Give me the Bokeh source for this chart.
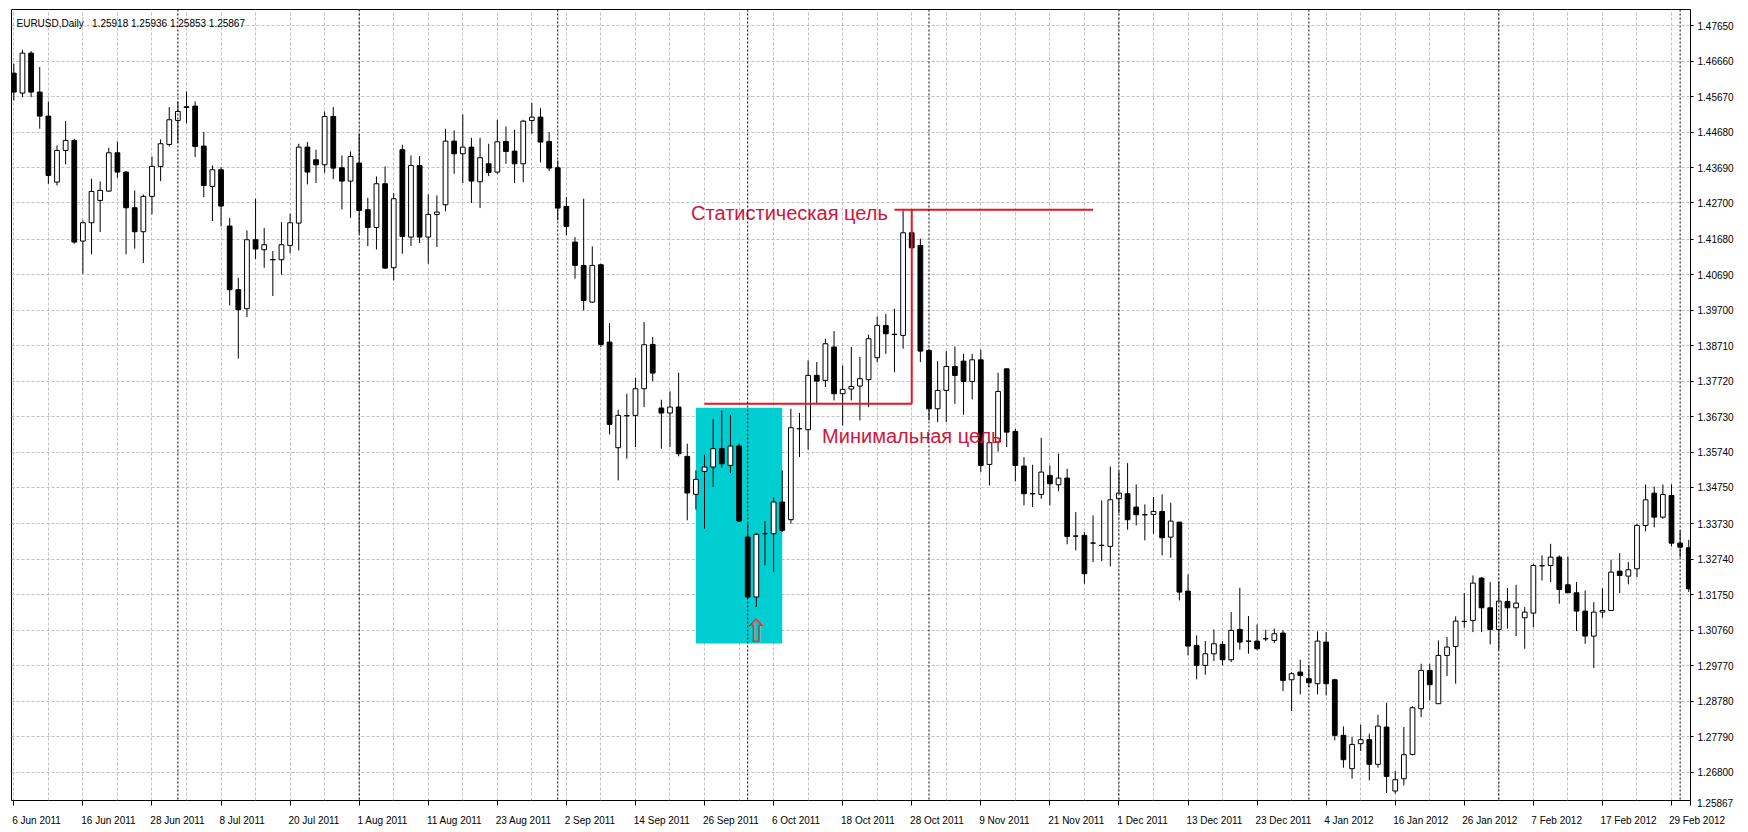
from bokeh.plotting import figure
from bokeh.models import (FixedTicker, Range1d, Span, Label, LinearAxis,
                          PrintfTickFormatter)
from bokeh.core.properties import value
from bokeh.embed import file_html
from bokeh.resources import INLINE

# ---------------- data ----------------
date_ticks = list(range(0, 193, 8))
date_labels = ["6 Jun 2011", "16 Jun 2011", "28 Jun 2011", "8 Jul 2011", "20 Jul 2011",
               "1 Aug 2011", "11 Aug 2011", "23 Aug 2011", "2 Sep 2011", "14 Sep 2011",
               "26 Sep 2011", "6 Oct 2011", "18 Oct 2011", "28 Oct 2011", "9 Nov 2011",
               "21 Nov 2011", "1 Dec 2011", "13 Dec 2011", "23 Dec 2011", "4 Jan 2012",
               "16 Jan 2012", "26 Jan 2012", "7 Feb 2012", "17 Feb 2012", "29 Feb 2012"]
month_starts = [19, 40, 63, 85, 106, 128, 150, 172, 193]
price_ticks = [1.47650, 1.46660, 1.45670, 1.44680, 1.43690, 1.42700, 1.41680, 1.40690,
               1.39700, 1.38710, 1.37720, 1.36730, 1.35740, 1.34750, 1.33730, 1.32740,
               1.31750, 1.30760, 1.29770, 1.28780, 1.27790, 1.26800]

ohlc = [
    (1.46327, 1.46588, 1.45564, 1.45797), (1.45769, 1.46979, 1.45657, 1.46886),
    (1.46886, 1.46942, 1.45657, 1.45797), (1.45797, 1.46495, 1.44773, 1.45126),
    (1.45126, 1.45536, 1.43236, 1.43469), (1.43283, 1.44307, 1.43190, 1.44167),
    (1.44167, 1.44987, 1.43776, 1.44447), (1.44447, 1.44493, 1.41561, 1.41607),
    (1.41635, 1.42212, 1.40723, 1.42147), (1.42147, 1.43376, 1.41263, 1.43022),
    (1.42771, 1.43302, 1.41886, 1.43050), (1.43032, 1.44242, 1.43004, 1.44102),
    (1.44102, 1.44419, 1.43404, 1.43562), (1.43562, 1.43590, 1.41263, 1.42566),
    (1.42566, 1.43050, 1.41421, 1.41896), (1.41896, 1.42938, 1.41021, 1.42883),
    (1.42883, 1.44000, 1.42380, 1.43721), (1.43721, 1.44475, 1.43311, 1.44354),
    (1.44335, 1.45378, 1.44279, 1.45024), (1.45005, 1.45536, 1.44372, 1.45257),
    (1.45387, 1.45815, 1.44931, 1.45368), (1.45406, 1.45536, 1.43981, 1.44279),
    (1.44288, 1.44679, 1.42864, 1.43190), (1.43162, 1.43748, 1.42194, 1.43627),
    (1.43627, 1.43702, 1.42045, 1.42613), (1.42054, 1.42277, 1.39838, 1.40276),
    (1.40276, 1.40611, 1.38349, 1.39717), (1.39745, 1.41933, 1.39512, 1.41672),
    (1.41672, 1.42817, 1.41132, 1.41412), (1.41393, 1.41998, 1.40890, 1.41533),
    (1.41120, 1.41356, 1.40099, 1.41110), (1.41114, 1.42166, 1.40695, 1.41533),
    (1.41514, 1.42398, 1.41300, 1.42147), (1.42137, 1.44353, 1.41374, 1.44260),
    (1.44260, 1.44400, 1.43217, 1.43562), (1.43906, 1.44186, 1.43255, 1.43767),
    (1.43767, 1.45256, 1.43543, 1.45117), (1.45117, 1.45377, 1.43366, 1.43673),
    (1.43683, 1.44027, 1.42519, 1.43310), (1.43310, 1.44139, 1.42286, 1.43999),
    (1.43813, 1.44632, 1.41839, 1.42491), (1.42510, 1.42845, 1.41495, 1.42016),
    (1.42016, 1.43441, 1.41402, 1.43236), (1.43236, 1.43720, 1.40853, 1.40880),
    (1.40890, 1.42975, 1.40536, 1.42817), (1.44186, 1.44325, 1.41281, 1.41765),
    (1.41746, 1.44027, 1.41495, 1.43748), (1.43748, 1.44009, 1.41579, 1.41746),
    (1.41746, 1.42938, 1.41001, 1.42379), (1.42379, 1.42910, 1.41467, 1.42445),
    (1.42649, 1.44772, 1.42463, 1.44428), (1.44428, 1.44725, 1.43515, 1.44074),
    (1.44074, 1.45172, 1.43255, 1.44260), (1.44260, 1.44521, 1.42696, 1.43310),
    (1.43292, 1.44521, 1.42556, 1.43962), (1.43794, 1.44353, 1.43450, 1.43552),
    (1.43562, 1.45023, 1.43515, 1.44409), (1.44418, 1.44837, 1.43794, 1.44139),
    (1.44148, 1.44744, 1.43255, 1.43794), (1.43794, 1.45023, 1.43282, 1.44986),
    (1.45005, 1.45498, 1.44632, 1.45098), (1.45098, 1.45349, 1.43832, 1.44400),
    (1.44418, 1.44679, 1.43590, 1.43673), (1.43683, 1.43888, 1.42212, 1.42556),
    (1.42603, 1.42863, 1.41793, 1.42044), (1.41607, 1.41746, 1.40583, 1.40955),
    (1.40954, 1.42816, 1.39697, 1.39976), (1.39930, 1.41485, 1.39902, 1.40954),
    (1.40973, 1.41000, 1.38673, 1.38747), (1.38813, 1.39343, 1.36234, 1.36513),
    (1.35861, 1.36923, 1.34949, 1.36764), (1.36760, 1.37370, 1.35554, 1.36750),
    (1.36764, 1.37816, 1.35880, 1.37509), (1.37509, 1.39371, 1.36997, 1.38738),
    (1.38747, 1.38952, 1.37723, 1.37947), (1.36969, 1.37202, 1.35833, 1.36830),
    (1.36830, 1.37435, 1.35880, 1.36997), (1.36997, 1.37956, 1.35619, 1.35694),
    (1.35619, 1.35973, 1.33832, 1.34595), (1.34558, 1.35228, 1.34130, 1.34977),
    (1.35200, 1.35666, 1.33599, 1.35321), (1.35321, 1.36653, 1.34763, 1.35833),
    (1.35833, 1.36904, 1.35303, 1.35414), (1.35368, 1.36783, 1.35154, 1.35908),
    (1.35908, 1.35973, 1.33785, 1.33813), (1.33366, 1.33739, 1.31644, 1.31690),
    (1.31690, 1.33478, 1.31411, 1.33441), (1.33465, 1.33813, 1.32575, 1.33455),
    (1.33459, 1.34483, 1.32389, 1.34344), (1.34344, 1.35228, 1.33506, 1.33552),
    (1.33850, 1.36951, 1.33739, 1.36420), (1.36395, 1.36830, 1.35601, 1.36390),
    (1.36364, 1.38301, 1.35806, 1.37882), (1.37882, 1.38254, 1.37072, 1.37723),
    (1.37742, 1.38906, 1.37556, 1.38766), (1.38673, 1.39120, 1.37183, 1.37370),
    (1.37370, 1.38161, 1.36485, 1.37491), (1.37500, 1.38673, 1.37183, 1.37574),
    (1.37584, 1.38394, 1.36625, 1.37789), (1.37761, 1.39017, 1.36997, 1.38906),
    (1.38375, 1.39530, 1.38251, 1.39278), (1.39278, 1.39604, 1.38485, 1.39045),
    (1.39032, 1.39744, 1.37971, 1.39022), (1.38999, 1.42490, 1.38626, 1.41866),
    (1.41866, 1.41932, 1.41373, 1.41447), (1.41513, 1.41699, 1.38254, 1.38561),
    (1.38578, 1.38625, 1.36623, 1.36949), (1.36949, 1.38280, 1.36576, 1.37461),
    (1.37461, 1.38559, 1.36576, 1.38131), (1.38131, 1.38690, 1.37088, 1.37880),
    (1.38280, 1.38485, 1.36781, 1.37712), (1.37712, 1.38485, 1.37210, 1.38317),
    (1.38317, 1.38597, 1.35180, 1.35366), (1.35394, 1.36046, 1.34808, 1.35999),
    (1.36018, 1.37954, 1.35757, 1.37433), (1.38066, 1.38066, 1.35878, 1.36297),
    (1.36316, 1.36390, 1.34919, 1.35366), (1.35348, 1.35599, 1.34249, 1.34575),
    (1.34580, 1.35385, 1.34202, 1.34570), (1.34556, 1.36139, 1.34435, 1.35180),
    (1.35087, 1.35366, 1.34249, 1.34854), (1.34826, 1.35692, 1.34649, 1.35012),
    (1.35012, 1.35273, 1.33160, 1.33383), (1.33395, 1.34063, 1.32992, 1.33390),
    (1.33411, 1.33504, 1.32061, 1.32340), (1.33200, 1.33970, 1.32666, 1.33195),
    (1.33135, 1.34389, 1.32694, 1.33130), (1.33104, 1.35338, 1.32545, 1.34407),
    (1.34435, 1.35208, 1.34035, 1.34593), (1.34575, 1.35431, 1.33569, 1.33849),
    (1.34202, 1.34835, 1.33690, 1.33988), (1.33990, 1.34277, 1.33271, 1.33985),
    (1.33998, 1.34482, 1.33458, 1.34081), (1.34081, 1.34556, 1.32852, 1.33346),
    (1.33363, 1.34322, 1.32786, 1.33810), (1.33782, 1.33782, 1.31594, 1.31827),
    (1.31855, 1.32320, 1.30058, 1.30319), (1.30337, 1.30617, 1.29388, 1.29779),
    (1.29779, 1.30458, 1.29518, 1.30104), (1.30104, 1.30784, 1.29900, 1.30384),
    (1.30365, 1.30458, 1.29779, 1.29937), (1.29937, 1.31268, 1.29872, 1.30756),
    (1.30784, 1.31948, 1.30216, 1.30430), (1.30460, 1.31157, 1.30104, 1.30455),
    (1.30458, 1.30924, 1.30198, 1.30244), (1.30525, 1.30775, 1.30458, 1.30520),
    (1.30477, 1.30803, 1.30402, 1.30663), (1.30682, 1.30756, 1.29062, 1.29360),
    (1.29378, 1.29592, 1.28503, 1.29546), (1.29592, 1.29937, 1.28969, 1.29499),
    (1.29406, 1.29779, 1.29173, 1.29295), (1.29267, 1.30728, 1.28969, 1.30458),
    (1.30430, 1.30710, 1.28941, 1.29267), (1.29378, 1.29406, 1.27684, 1.27824),
    (1.27824, 1.28075, 1.26920, 1.27144), (1.26893, 1.27777, 1.26613, 1.27572),
    (1.27591, 1.28122, 1.27386, 1.27703), (1.27703, 1.27870, 1.26567, 1.27014),
    (1.27014, 1.28401, 1.26920, 1.28084), (1.28056, 1.28736, 1.26213, 1.26678),
    (1.26269, 1.26827, 1.26194, 1.26585), (1.26613, 1.28056, 1.26427, 1.27284),
    (1.27293, 1.28634, 1.27265, 1.28596), (1.28568, 1.29825, 1.28336, 1.29639),
    (1.29639, 1.29825, 1.28801, 1.29239), (1.28708, 1.30477, 1.28708, 1.30058),
    (1.30058, 1.30570, 1.29481, 1.30291), (1.30309, 1.31147, 1.29267, 1.31017),
    (1.31010, 1.31799, 1.30830, 1.31005), (1.31035, 1.32292, 1.30709, 1.32078),
    (1.32218, 1.32245, 1.30709, 1.31389), (1.31389, 1.32106, 1.30365, 1.30784),
    (1.30784, 1.32134, 1.30216, 1.31575), (1.31566, 1.31938, 1.30802, 1.31389),
    (1.31389, 1.32031, 1.30598, 1.31519), (1.31110, 1.31408, 1.30244, 1.31268),
    (1.31240, 1.32618, 1.30849, 1.32571), (1.32565, 1.32851, 1.32152, 1.32560),
    (1.32571, 1.33176, 1.32106, 1.32804), (1.32804, 1.32851, 1.31501, 1.31901),
    (1.32031, 1.32823, 1.31808, 1.31808), (1.31808, 1.32106, 1.30737, 1.31296),
    (1.31296, 1.31873, 1.30383, 1.30598), (1.30598, 1.31547, 1.29704, 1.31268),
    (1.31268, 1.31938, 1.31110, 1.31314), (1.31314, 1.32730, 1.31314, 1.32385),
    (1.32413, 1.32916, 1.31799, 1.32292), (1.32273, 1.32664, 1.32041, 1.32450),
    (1.32478, 1.33735, 1.32245, 1.33689), (1.33689, 1.34834, 1.33530, 1.34405),
    (1.34592, 1.34778, 1.33642, 1.33921), (1.33921, 1.34834, 1.33875, 1.34554),
    (1.34526, 1.34834, 1.33102, 1.33195), (1.33195, 1.33549, 1.32804, 1.33083),
    (1.33065, 1.33288, 1.31827, 1.31920),
]
opens = [r[0] for r in ohlc]
highs = [r[1] for r in ohlc]
lows = [r[2] for r in ohlc]
closes = [r[3] for r in ohlc]

# annotations (MT4 objects)
box_bars = (79, 89)
box_prices = (1.30391, 1.36977)
min_target_price = 1.37088
min_target_bars = (80, 104)
stat_target_price = 1.42509
stat_target_bars = (102, 125)
arrow_bar, arrow_price = 86, 1.30727
header = "EURUSD,Daily\u00a0\u00a0 1.25918 1.25936 1.25853 1.25867"
bid_label = "1.25867"

# ---------------- layout ----------------
W, H = 1748, 832
L, T, R, B = 11, 9, 58, 32
FW, FH = W - L - R, H - T - B
X0, X1 = -0.27, 194.2
p = figure(width=W, height=H, output_backend="svg", toolbar_location=None,
           title=None, x_range=Range1d(X0, X1), y_range=Range1d(1.26004, 1.48105),
           y_axis_location="right", min_border_left=L, min_border_top=T,
           min_border_right=R, min_border_bottom=B)
p.background_fill_color = "white"
p.border_fill_color = "white"
p.outline_line_color = "black"
p.outline_line_width = 1

# grids
p.xgrid.ticker = FixedTicker(ticks=list(range(0, 195, 4)))
p.ygrid.ticker = FixedTicker(ticks=price_ticks)
for g in (p.xgrid, p.ygrid):
    g.grid_line_color = "#C0C0C0"
    g.grid_line_dash = "3 2"
    g.grid_line_width = 1

# y axis (right)
ya = p.yaxis[0]
ya.ticker = FixedTicker(ticks=price_ticks)
ya.formatter = PrintfTickFormatter(format="%.5f")
ya.axis_line_color = None
ya.major_tick_out = 3
ya.major_tick_in = 0
ya.minor_tick_line_color = None
ya.major_tick_line_color = "black"
ya.major_label_standoff = 4
ya.major_label_text_font = "Liberation Sans"
ya.major_label_text_font_size = "10px"
ya.major_label_text_color = "black"

ARIAL = {" ": .278, "J": .5, "u": .556, "n": .556, "l": .222, "A": .667, "g": .556,
         "S": .667, "e": .556, "p": .556, "O": .778, "c": .5, "t": .278, "N": .722,
         "o": .556, "v": .5, "D": .722, "F": .611, "b": .556, "a": .556, ".": .278}
px_per_bar = FW / (X1 - X0)
NBSP = 2.78  # width of a no-break space at 10px


def text_w(s, size=10.0):
    return sum(ARIAL.get(ch, .556) for ch in s) * size


# x axis A: tick marks at the date bars; also carries the current-bid label at the
# lower right corner (beyond the frame, as in MT4)
bid_tick = round(X1 - 0.05, 4)
bid_center_px = 1714.5 - L            # centre of the bid box, from the frame's left
shift = bid_center_px - (bid_tick - X0) * px_per_bar
bid_text = "\u00a0" * int(round(2 * shift / NBSP)) + bid_label
xa = p.xaxis[0]
xa.ticker = FixedTicker(ticks=date_ticks + [bid_tick])
overrides_a = {t: "" for t in date_ticks}
overrides_a[bid_tick] = bid_text
xa.major_label_overrides = overrides_a
xa.major_label_text_font = "Liberation Sans"
xa.major_label_text_font_size = "10px"
xa.major_label_text_color = "black"
xa.major_label_standoff = -8
xa.axis_line_color = None
xa.major_tick_out = 5
xa.major_tick_in = 0
xa.minor_tick_line_color = None
xa.major_tick_line_color = "black"

# x axis B: date labels placed so that they start at their tick (MT4 style)
label_pos, label_txt = [], []
for t, s in zip(date_ticks, date_labels):
    c = t + (text_w(s) / 2 - 2) / px_per_bar
    if c > X1 - 0.05:   # keep the tick inside the range, pad on the left instead
        sh = (c - (X1 - 0.05)) * px_per_bar
        s = "\u00a0" * int(round(2 * sh / NBSP)) + s
        c = X1 - 0.05
    label_pos.append(round(c, 4))
    label_txt.append(s)
xb = LinearAxis(ticker=FixedTicker(ticks=label_pos),
                major_label_overrides={c: s for c, s in zip(label_pos, label_txt)})
xb.axis_line_color = None
xb.major_tick_line_color = None
xb.minor_tick_line_color = None
xb.major_tick_out = 0
xb.major_tick_in = 0
xb.major_label_standoff = 3
xb.major_label_text_font = "Liberation Sans"
xb.major_label_text_font_size = "10px"
xb.major_label_text_color = "black"
p.add_layout(xb, "below")

# cyan rectangle
p.quad(left=[box_bars[0]], right=[box_bars[1]], bottom=[box_prices[0]], top=[box_prices[1]],
       fill_color="#00CED1", line_color=None)

# month separators
for b in month_starts:
    p.add_layout(Span(location=b, dimension="height", line_color="black",
                      line_dash="2 2", line_width=1))

# candles
idx = list(range(len(opens)))
up = [i for i in idx if closes[i] >= opens[i]]
dn = [i for i in idx if closes[i] < opens[i]]
p.segment(x0=idx, y0=lows, x1=idx, y1=highs, line_color="black", line_width=1)
p.vbar(x=up, width=0.55, bottom=[opens[i] for i in up], top=[closes[i] for i in up],
       fill_color="white", line_color="black", line_width=1)
p.vbar(x=dn, width=0.55, bottom=[closes[i] for i in dn], top=[opens[i] for i in dn],
       fill_color="black", line_color="black", line_width=1)

# target lines
red = "#E8141E"
p.line(x=list(min_target_bars), y=[min_target_price] * 2, line_color=red, line_width=2)
p.line(x=[min_target_bars[1]] * 2, y=[min_target_price, stat_target_price],
       line_color=red, line_width=2)
p.line(x=list(stat_target_bars), y=[stat_target_price] * 2, line_color=red, line_width=2)

crimson = "#D2143C"
p.text(x=[101.23], y=[stat_target_price], text=["Статистическая цель"],
       text_align="right", text_baseline="alphabetic", text_color=crimson,
       text_font=value("Liberation Sans"), text_font_size="20px", y_offset=3)
p.text(x=[93.62], y=[min_target_price], text=["Минимальная цель"],
       text_align="left", text_baseline="alphabetic", text_color=crimson,
       text_font=value("Liberation Sans"), text_font_size="20px", y_offset=32)

# arrow
p.text(x=[arrow_bar], y=[arrow_price], text=["\u21e7"], text_align="center",
       text_baseline="middle", text_color="#E03C3C",
       text_font=value("DejaVu Sans"), text_font_size="32px")

# header
p.add_layout(Label(x=5, y=FH - 14, x_units="screen", y_units="screen", text=header,
                   text_font="Liberation Sans", text_font_size="10px",
                   text_baseline="alphabetic", text_color="black"))

open("out.html", "w").write(file_html(p, INLINE))
